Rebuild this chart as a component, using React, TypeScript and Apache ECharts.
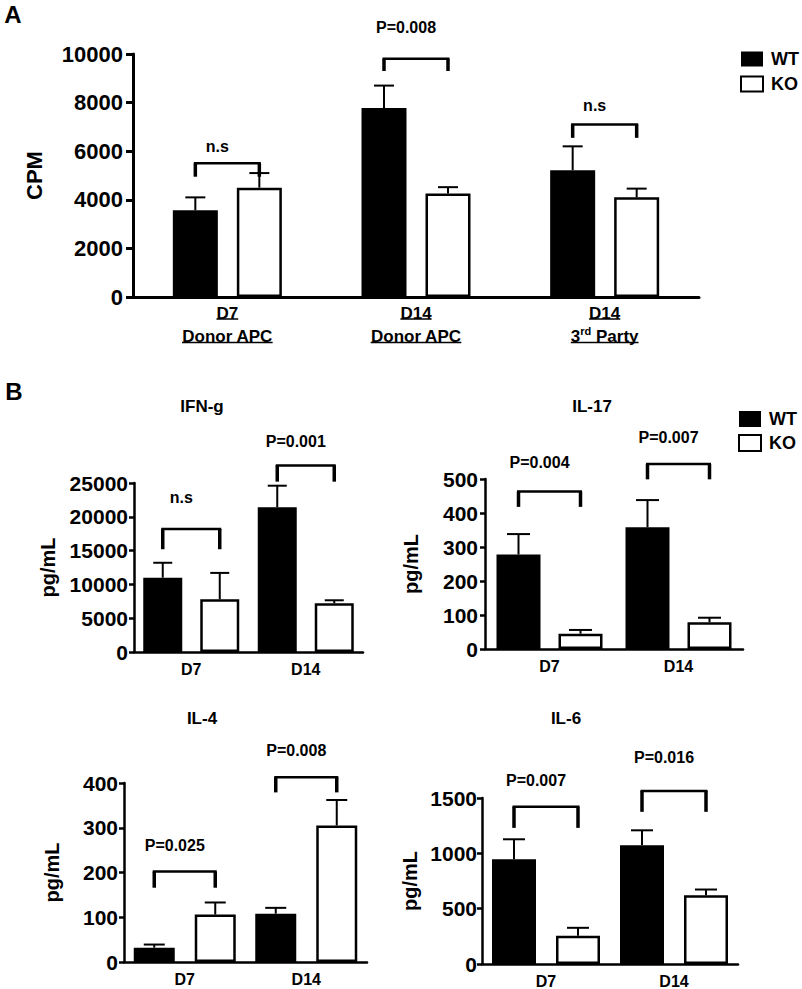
import React, { useEffect, useRef } from "react";
import * as echarts from "echarts";

const FONT = '"Liberation Sans", Arial, Helvetica, sans-serif';

// ---------- Panel A: CPM ----------
const cpmCategories = ["D7|Donor APC", "D14|Donor APC", "D14|3rd Party"];
const cpmWT = [3570, 7780, 5220];
const cpmWTErr = [530, 920, 980];
const cpmKO = [4500, 4260, 4100];
const cpmKOErr = [600, 260, 360];
// [category index, bracket level, bracket end, label level]
const cpmBrackets = [
  [0, 5500, 4950, 6200],
  [1, 9800, 9300, 11100],
  [2, 7100, 6550, 7900],
];
const cpmBracketLabels = ["n.s", "P=0.008", "n.s"];

// ---------- Panel B ----------
const dayCategories = ["D7", "D14"];

const ifngWT = [11000, 21400];
const ifngWTErr = [2200, 3200];
const ifngKO = [7800, 7200];
const ifngKOErr = [3900, 450];
const ifngBrackets = [
  [0, 18200, 15200, 22800],
  [1, 27600, 25200, 31200],
];
const ifngBracketLabels = ["n.s", "P=0.001"];

const il17WT = [278, 358];
const il17WTErr = [60, 80];
const il17KO = [45, 79];
const il17KOErr = [11, 13];
const il17Brackets = [
  [0, 463, 418, 549],
  [1, 544, 499, 622],
];
const il17BracketLabels = ["P=0.004", "P=0.007"];

const il4WT = [32, 108];
const il4WTErr = [7, 13];
const il4KO = [106, 305];
const il4KOErr = [27, 57];
const il4Brackets = [
  [0, 202, 166, 260],
  [1, 413, 379, 472],
];
const il4BracketLabels = ["P=0.025", "P=0.008"];

const il6WT = [947, 1073];
const il6WTErr = [180, 135];
const il6KO = [255, 622];
const il6KOErr = [72, 51];
const il6Brackets = [
  [0, 1420, 1230, 1661],
  [1, 1564, 1375, 1866],
];
const il6BracketLabels = ["P=0.007", "P=0.016"];

type Panel = {
  grid: { left: number; top: number; width: number; height: number };
  categories: string[];
  yMax: number;
  interval: number;
  yName: string;
  nameGap: number;
  nameSize: number;
  labelSize: number;
  labelMargin: number;
  axisWidth: number;
  tickLen: number;
  barWidth: number;
  gap: number;
  capW: number;
  wt: number[];
  wtErr: number[];
  ko: number[];
  koErr: number[];
  brackets: number[][];
  bracketLabels: string[];
  isA?: boolean;
};

const panels: Panel[] = [
  {
    grid: { left: 133, top: 54, width: 566, height: 243 },
    categories: cpmCategories,
    yMax: 10000,
    interval: 2000,
    yName: "CPM",
    nameGap: 88,
    nameSize: 22,
    labelSize: 22,
    labelMargin: 10,
    axisWidth: 3,
    tickLen: 7,
    barWidth: 45,
    gap: 19,
    capW: 20,
    wt: cpmWT,
    wtErr: cpmWTErr,
    ko: cpmKO,
    koErr: cpmKOErr,
    brackets: cpmBrackets,
    bracketLabels: cpmBracketLabels,
    isA: true,
  },
  {
    grid: { left: 134, top: 483, width: 229, height: 169 },
    categories: dayCategories,
    yMax: 25000,
    interval: 5000,
    yName: "pg/mL",
    nameGap: 76,
    nameSize: 20,
    labelSize: 21,
    labelMargin: 6,
    axisWidth: 2.5,
    tickLen: 5,
    barWidth: 39,
    gap: 18,
    capW: 19,
    wt: ifngWT,
    wtErr: ifngWTErr,
    ko: ifngKO,
    koErr: ifngKOErr,
    brackets: ifngBrackets,
    bracketLabels: ifngBracketLabels,
  },
  {
    grid: { left: 485, top: 479, width: 258, height: 170 },
    categories: dayCategories,
    yMax: 500,
    interval: 100,
    yName: "pg/mL",
    nameGap: 64,
    nameSize: 20,
    labelSize: 21,
    labelMargin: 7,
    axisWidth: 2.5,
    tickLen: 5,
    barWidth: 44,
    gap: 18,
    capW: 23,
    wt: il17WT,
    wtErr: il17WTErr,
    ko: il17KO,
    koErr: il17KOErr,
    brackets: il17Brackets,
    bracketLabels: il17BracketLabels,
  },
  {
    grid: { left: 124, top: 783, width: 243, height: 179 },
    categories: dayCategories,
    yMax: 400,
    interval: 100,
    yName: "pg/mL",
    nameGap: 62,
    nameSize: 20,
    labelSize: 21,
    labelMargin: 6,
    axisWidth: 2.5,
    tickLen: 5,
    barWidth: 41,
    gap: 20,
    capW: 21,
    wt: il4WT,
    wtErr: il4WTErr,
    ko: il4KO,
    koErr: il4KOErr,
    brackets: il4Brackets,
    bracketLabels: il4BracketLabels,
  },
  {
    grid: { left: 482, top: 798, width: 256, height: 166 },
    categories: dayCategories,
    yMax: 1500,
    interval: 500,
    yName: "pg/mL",
    nameGap: 62,
    nameSize: 20,
    labelSize: 21,
    labelMargin: 5,
    axisWidth: 2.5,
    tickLen: 5,
    barWidth: 44,
    gap: 20,
    capW: 22,
    wt: il6WT,
    wtErr: il6WTErr,
    ko: il6KO,
    koErr: il6KOErr,
    brackets: il6Brackets,
    bracketLabels: il6BracketLabels,
  },
];

function errorSeries(gi: number, p: Panel, vals: number[], errs: number[], sign: number) {
  return {
    type: "custom",
    xAxisIndex: gi,
    yAxisIndex: gi,
    z: 4,
    clip: false,
    silent: true,
    data: vals.map((v, i) => [i, v, errs[i]]),
    renderItem: (params: any, api: any) => {
      const base = api.coord([api.value(0), api.value(1)]);
      const top = api.coord([api.value(0), api.value(1) + api.value(2)]);
      const x = base[0] + (sign * (p.barWidth + p.gap)) / 2;
      const st = { stroke: "#000", lineWidth: 2 };
      return {
        type: "group",
        children: [
          { type: "line", shape: { x1: x, y1: base[1], x2: x, y2: top[1] }, style: st },
          {
            type: "line",
            shape: { x1: x - p.capW / 2, y1: top[1], x2: x + p.capW / 2, y2: top[1] },
            style: st,
          },
        ],
      };
    },
  };
}

function bracketSeries(gi: number, p: Panel) {
  return {
    type: "custom",
    xAxisIndex: gi,
    yAxisIndex: gi,
    z: 5,
    clip: false,
    silent: true,
    data: p.brackets,
    renderItem: (params: any, api: any) => {
      const cat = api.value(0);
      const c = api.coord([cat, api.value(1)]);
      const d = api.coord([cat, api.value(2)]);
      const l = api.coord([cat, api.value(3)]);
      const half = (p.barWidth + p.gap) / 2;
      const xL = c[0] - half;
      const xR = c[0] + half;
      const label = p.bracketLabels[params.dataIndex];
      return {
        type: "group",
        children: [
          {
            type: "line",
            shape: { x1: xL - 1.5, y1: c[1], x2: xR + 1.5, y2: c[1] },
            style: { stroke: "#000", lineWidth: 2.5 },
          },
          {
            type: "line",
            shape: { x1: xL, y1: c[1], x2: xL, y2: d[1] },
            style: { stroke: "#000", lineWidth: 3.5 },
          },
          {
            type: "line",
            shape: { x1: xR, y1: c[1], x2: xR, y2: d[1] },
            style: { stroke: "#000", lineWidth: 3.5 },
          },
          {
            type: "text",
            x: c[0] - 10,
            y: l[1],
            style: {
              text: label,
              fill: "#000",
              font: `bold 16px ${FONT}`,
              align: "center",
              verticalAlign: "middle",
            },
          },
        ],
      };
    },
  };
}

function aLabel(v: string) {
  const [a, b] = v.split("|");
  const second = b.startsWith("3rd")
    ? `{n|3}{sup|rd}{n|${b.slice(3)}}`
    : `{n|${b}}`;
  return `{n|${a}}\n${second}`;
}

export default function App() {
  const ref = useRef<HTMLDivElement>(null);

  useEffect(() => {
    document.body.style.margin = "0";
    if (!ref.current) return;
    const chart = echarts.init(ref.current, undefined, { renderer: "svg" });

    const grids: any[] = [];
    const xAxes: any[] = [];
    const yAxes: any[] = [];
    const series: any[] = [];

    panels.forEach((p, gi) => {
      grids.push({ ...p.grid, containLabel: false });
      xAxes.push({
        type: "category",
        gridIndex: gi,
        data: p.categories,
        axisLine: { lineStyle: { color: "#000", width: p.axisWidth } },
        axisTick: {
          alignWithLabel: !!p.isA,
          length: p.isA ? 7 : 5,
          lineStyle: { color: "#000", width: p.axisWidth },
        },
        axisLabel: p.isA
          ? {
              margin: 5,
              formatter: aLabel,
              rich: {
                n: { fontSize: 17, fontWeight: "bold", fontFamily: FONT, color: "#000", lineHeight: 23 },
                sup: {
                  fontSize: 11,
                  fontWeight: "bold",
                  fontFamily: FONT,
                  color: "#000",
                  lineHeight: 23,
                  verticalAlign: "top",
                },
              },
            }
          : {
              margin: 9,
              fontSize: 16,
              fontWeight: "bold",
              fontFamily: FONT,
              color: "#000",
            },
      });
      yAxes.push({
        type: "value",
        gridIndex: gi,
        min: 0,
        max: p.yMax,
        interval: p.interval,
        name: p.yName,
        nameLocation: "middle",
        nameRotate: 90,
        nameGap: p.nameGap,
        nameTextStyle: { fontSize: p.nameSize, fontWeight: "bold", fontFamily: FONT, color: "#000" },
        axisLine: { show: true, lineStyle: { color: "#000", width: p.axisWidth } },
        axisTick: { show: true, length: p.tickLen, lineStyle: { color: "#000", width: p.axisWidth } },
        axisLabel: {
          margin: p.labelMargin,
          fontSize: p.labelSize,
          fontWeight: "bold",
          fontFamily: FONT,
          color: "#000",
          formatter: (v: number) => String(v),
        },
        splitLine: { show: false },
      });
      series.push({
        type: "bar",
        name: "WT",
        xAxisIndex: gi,
        yAxisIndex: gi,
        data: p.wt,
        barWidth: p.barWidth,
        barGap: `${(p.gap / p.barWidth) * 100}%`,
        itemStyle: { color: "#000", borderColor: "#000", borderWidth: 0 },
        z: 2,
      });
      series.push({
        type: "bar",
        name: "KO",
        xAxisIndex: gi,
        yAxisIndex: gi,
        data: p.ko,
        barWidth: p.barWidth,
        barGap: `${(p.gap / p.barWidth) * 100}%`,
        itemStyle: { color: "#fff", borderColor: "#000", borderWidth: 2.5 },
        z: 2,
      });
      series.push(errorSeries(gi, p, p.wt, p.wtErr, -1));
      series.push(errorSeries(gi, p, p.ko, p.koErr, 1));
      series.push(bracketSeries(gi, p));
    });

    const legendBase = {
      orient: "vertical",
      icon: "rect",
      selectedMode: false,
      itemWidth: 22,
      data: ["WT", "KO"],
      textStyle: { fontSize: 18, fontWeight: "bold", fontFamily: FONT, color: "#000", padding: [0, 0, 0, 3] },
    };

    chart.setOption({
      animation: false,
      backgroundColor: "#fff",
      grid: grids,
      xAxis: xAxes,
      yAxis: yAxes,
      series,
      legend: [
        { ...legendBase, left: 735, top: 45, itemHeight: 15, itemGap: 7 },
        { ...legendBase, left: 733, top: 405, itemHeight: 16, itemGap: 6 },
      ],
    });

    // graphics: panel letters, titles, underlines of panel A labels
    const txt = (text: string, x: number, y: number, size: number) => ({
      type: "text",
      x,
      y,
      style: {
        text,
        fill: "#000",
        font: `bold ${size}px ${FONT}`,
        align: "center",
        verticalAlign: "middle",
      },
    });
    const elements: any[] = [
      txt("A", 13, 14, 24),
      txt("B", 14, 391, 24),
      txt("IFN-g", 202, 406, 17),
      txt("IL-17", 592, 406, 17),
      txt("IL-4", 202, 718, 17),
      txt("IL-6", 566, 718, 17),
    ];

    const ctx = document.createElement("canvas").getContext("2d");
    const measure = (s: string, size: number) => {
      if (!ctx) return s.length * size * 0.6;
      ctx.font = `bold ${size}px ${FONT}`;
      return ctx.measureText(s).width;
    };
    const y0 = chart.convertToPixel({ yAxisIndex: 0 }, 0) as number;
    cpmCategories.forEach((c, i) => {
      const xc = chart.convertToPixel({ xAxisIndex: 0 }, i) as number;
      const [a, b] = c.split("|");
      const w1 = measure(a, 17);
      const w2 = b.startsWith("3rd")
        ? measure("3", 17) + measure("rd", 11) + measure(b.slice(3), 17)
        : measure(b, 17);
      const ul = (w: number, y: number) => ({
        type: "line",
        shape: { x1: xc - w / 2, y1: y, x2: xc + w / 2, y2: y },
        style: { stroke: "#000", lineWidth: 1.5 },
      });
      elements.push(ul(w1, y0 + 22));
      elements.push(ul(w2, y0 + 45.5));
    });

    chart.setOption({ graphic: { elements } });

    return () => chart.dispose();
  }, []);

  return <div ref={ref} style={{ width: 802, height: 989 }} />;
}
